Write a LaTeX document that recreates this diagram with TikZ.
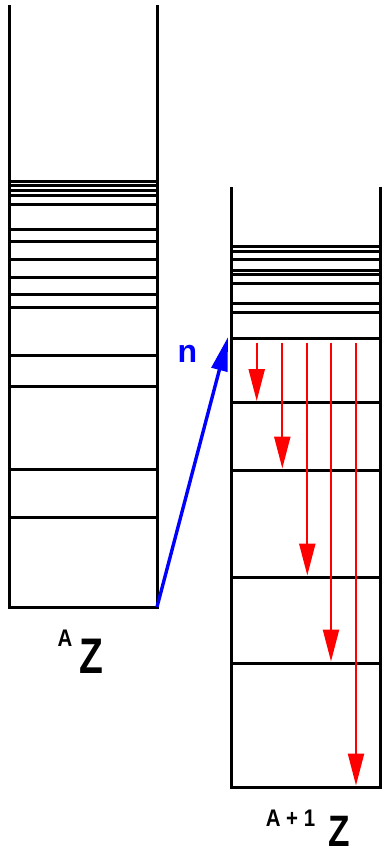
\documentclass[tikz,border=0pt]{standalone}
\usepackage{fontspec}
\setmainfont{Liberation Sans}
\usetikzlibrary{arrows.meta}
\definecolor{rred}{RGB}{255,0,0}
\definecolor{bblue}{RGB}{0,0,255}
\tikzset{
  level/.style={line width=3pt, black},
  wall/.style={line width=3pt, black, line join=miter},
  decay/.style={line width=2.3pt, rred, -{Triangle[length=32pt 0 0,width=16pt 0 0]}},
  capture/.style={line width=3.4pt, bblue, -{Triangle[length=34pt 0 0,width=16pt 0 0]}},
  lbl/.style={inner sep=0pt, font=\bfseries},
}
\begin{document}
\begin{tikzpicture}[x=1pt,y=-1pt]
\useasboundingbox (0,0) rectangle (383,855);
% left nucleus A Z
\draw[wall] (9,5) -- (9,607) -- (157,607) -- (157,5);
\foreach \y in {181.5,185.5,190.5,195,204,229,241,259.5,277.5,294,307,355,386,469,517}
  \draw[level] (9,\y) -- (157,\y);
% right nucleus A+1 Z
\draw[wall] (231.5,187) -- (231.5,787) -- (380,787) -- (380,187);
\foreach \y in {246,251,259.5,270,274.5,283.5,303,312,338,402.5,470,577,663}
  \draw[level] (231.5,\y) -- (380,\y);
% named points
\coordinate (ground) at (157,607);
\coordinate (capt) at (228,337);
\foreach \i/\x/\e in {1/256.7/401,2/282.3/468.5,3/307.3/575.5,4/331/661.5,5/356/785.5}{
  \coordinate (s\i) at (\x,342.7);
  \coordinate (e\i) at (\x,\e);
}
% neutron capture
\draw[capture] (ground) -- (capt);
\node[lbl, text=bblue, font=\bfseries\fontsize{32}{32}\selectfont] (n) at (187.5,353.5) {n};
% gamma cascade
\foreach \i in {1,...,5}
  \draw[decay] (s\i) -- (e\i);
% labels
\node[lbl, font=\bfseries\fontsize{24}{24}\selectfont] (la) at (65,638.5) {\scalebox{0.85}[1]{A}};
\node[lbl, font=\bfseries\fontsize{50}{50}\selectfont] (lz) at (91.5,656.5) {\scalebox{0.78}[1]{Z}};
\node[lbl, font=\bfseries\fontsize{24}{24}\selectfont] (ra) at (290.5,818) {\scalebox{0.85}[1]{A + 1}};
\node[lbl, font=\bfseries\fontsize{44}{44}\selectfont] (rz) at (339,831) {\scalebox{0.8}[1]{Z}};
\end{tikzpicture}
\end{document}
